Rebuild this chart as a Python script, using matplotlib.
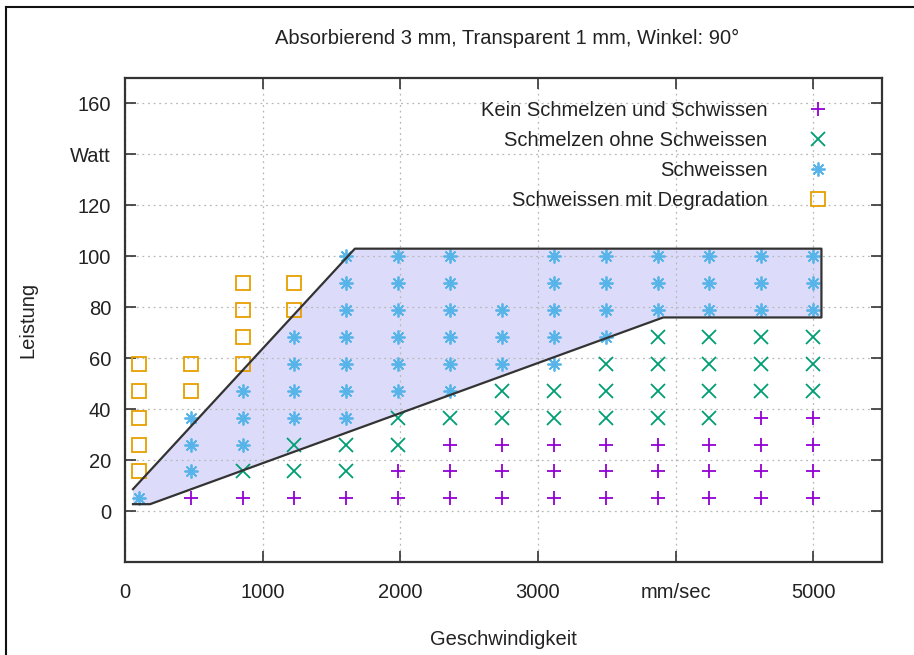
import numpy as np
import matplotlib
matplotlib.use("Agg")
import matplotlib.pyplot as plt
from matplotlib.lines import Line2D

plt.rcParams['font.family'] = ['Liberation Sans', 'DejaVu Sans']
plt.rcParams['font.size'] = 14.5

# Messpunkte: Geschwindigkeit (mm/sec) und Leistung (Watt)
speeds = [100, 477, 854, 1231, 1608, 1985, 2362, 2738, 3115, 3492, 3869, 4246, 4623, 5000]
powers = [5, 15.6, 26.1, 36.7, 47.2, 57.8, 68.3, 78.9, 89.4, 100]

# Ergebnis je Geschwindigkeit, von unten (5 W) nach oben (100 W)
# k = kein Schmelzen, m = Schmelzen ohne Schweissen, s = Schweissen, d = Degradation
results = [
    "sddddd....",
    "ksssdd....",
    "kmsssdddd.",
    "kmmssssdd.",
    "kmmsssssss",
    "kkmmssssss",
    "kkkmssssss",
    "kkkmmsss..",
    "kkkmmsssss",
    "kkkmmmssss",
    "kkkmmmmsss",
    "kkkmmmmsss",
    "kkkkmmmsss",
    "kkkkmmmsss",
]

# Schweissbereich (Polygon)
region_x = [58, 1670, 5060, 5060, 3910, 182, 58]
region_y = [8.6, 103, 103, 76, 76, 2.7, 2.7]

title = "Absorbierend 3 mm, Transparent 1 mm, Winkel: 90°"
xtick_vals = [0, 1000, 2000, 3000, 4000, 5000]
xtick_labels = ["0", "1000", "2000", "3000", "mm/sec", "5000"]
ytick_vals = [0, 20, 40, 60, 80, 100, 120, 140, 160]
ytick_labels = ["0", "20", "40", "60", "80", "100", "120", "Watt", "160"]

styles = {
    'k': ("Kein Schmelzen und Schwissen", '+', '#9400d3'),
    'm': ("Schmelzen ohne Schweissen", 'x', '#009e73'),
    's': ("Schweissen", (8, 2, 0), '#56b4e9'),
    'd': ("Schweissen mit Degradation", 's', '#e69f00'),
}

fig = plt.figure(figsize=(9.14, 6.55), dpi=100)
ax = fig.add_axes([125 / 914, 1 - 562 / 655, 757 / 914, 484 / 655])

ax.fill(region_x, region_y, facecolor='#dcdcfa', edgecolor='none', zorder=0.5)
ax.plot(region_x, region_y, color='#333333', lw=1.6, zorder=3)

for code in ['k', 'm', 's', 'd']:
    label, marker, color = styles[code]
    xs = []
    ys = []
    for i in range(len(speeds)):
        for j in range(len(powers)):
            if results[i][j] == code:
                xs.append(speeds[i])
                ys.append(powers[j])
    ax.plot(xs, ys, linestyle='none', marker=marker, ms=10, mew=1.3,
            mfc='none', color=color, label=label, zorder=2)

ax.set_xlim(0, 5500)
ax.set_ylim(-20, 170)
ax.set_xticks(xtick_vals)
ax.set_xticklabels(xtick_labels)
ax.set_yticks(ytick_vals)
ax.set_yticklabels(ytick_labels)
ax.set_axisbelow('line')
ax.grid(True, linestyle=(0, (1.5, 3)), color='#b8b8b8', lw=0.9)
ax.tick_params(direction='in', length=8, width=1.2, top=True, right=True,
               colors='#333333', labelcolor='#222222')
ax.tick_params(axis='x', pad=15)
ax.tick_params(axis='y', pad=10)
for sp in ax.spines.values():
    sp.set_color('#333333')
    sp.set_linewidth(1.6)

ax.set_xlabel("Geschwindigkeit", color='#222222', labelpad=20)
ax.set_ylabel("Leistung", color='#222222', labelpad=24)
fig.text(507 / 914, 1 - 38 / 655, title, ha='center', va='center', color='#222222')

leg = ax.legend(loc='upper right', bbox_to_anchor=(0.942, 0.953), markerfirst=False,
                frameon=False, borderpad=0, borderaxespad=0, handlelength=2.0,
                handletextpad=1.5, labelspacing=0.55, numpoints=1)
for t in leg.get_texts():
    t.set_color('#222222')

# Rahmen um das Bild (links und oben)
fig.add_artist(Line2D([6 / 914, 6 / 914], [0, 1 - 7 / 655], color='#111111', lw=1.5))
fig.add_artist(Line2D([6 / 914, 1], [1 - 7 / 655, 1 - 7 / 655], color='#111111', lw=1.5))

fig.savefig("out.png", dpi=100)
